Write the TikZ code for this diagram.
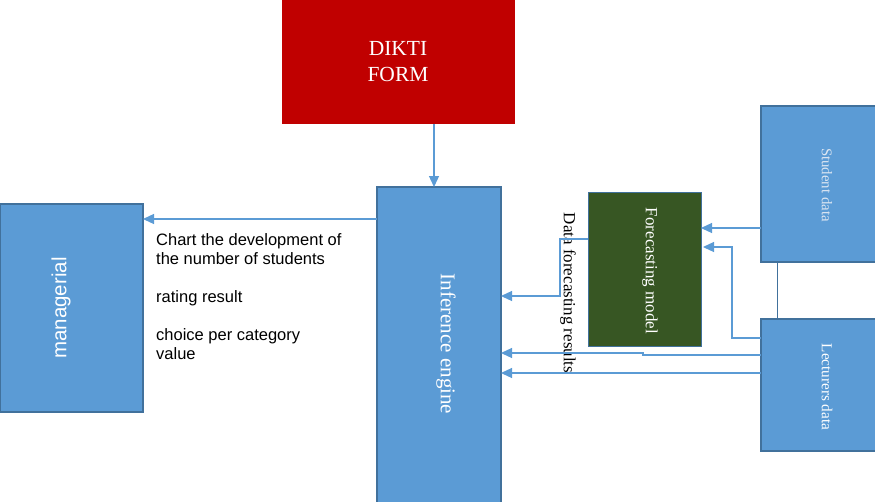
\documentclass[tikz,border=0pt]{standalone}
\usepackage{fontspec}
\setmainfont{Liberation Serif}
\newfontfamily\arialf{Liberation Sans}
\usetikzlibrary{arrows.meta}
\definecolor{boxblue}{HTML}{5B9BD5}
\definecolor{edgeblue}{HTML}{41719C}
\definecolor{dikred}{HTML}{C00000}
\definecolor{fcgreen}{HTML}{375623}
\definecolor{paletext}{HTML}{DCE6F2}
\begin{document}
\begin{tikzpicture}[x=1pt,y=-1pt,
  bluebox/.style={draw=edgeblue, fill=boxblue, line width=1.4pt, inner sep=0pt, outer sep=0pt, anchor=north west},
  arr/.style={draw=boxblue, line width=1.3pt, -{Triangle[length=11pt,width=10pt]}},
  sanslbl/.style={font=\arialf\fontsize{16.5}{19}\selectfont, anchor=base west, inner sep=0pt}
]
\useasboundingbox (0,0) rectangle (875,501);
% boxes
\node[draw=none, fill=dikred, inner sep=0pt, outer sep=0pt, anchor=north west, minimum width=233pt, minimum height=124pt] (dik) at (282,0) {};
\node[bluebox, minimum width=124pt, minimum height=320pt] (inf) at (377,187) {};
\node[bluebox, minimum width=143pt, minimum height=208pt] (mgr) at (0,204) {};
\node[draw=edgeblue, fill=fcgreen, line width=1pt, inner sep=0pt, outer sep=0pt, anchor=north west, minimum width=113pt, minimum height=154pt] (fc) at (588,192) {};
\node[bluebox, minimum width=118pt, minimum height=156pt] (stu) at (761,106) {};
\node[bluebox, minimum width=118pt, minimum height=132pt] (lec) at (761,319) {};
% box texts
\node[text=white, align=center, font=\fontsize{21.5}{26}\selectfont, inner sep=0pt] (dikt) at (398,62) {DIKTI\\FORM};
\node[text=white, rotate=-90, font=\fontsize{21}{24}\selectfont, inner sep=0pt] (inft) at (446,344) {Inference engine};
\node[text=white, rotate=90, font=\arialf\fontsize{20.5}{24}\selectfont, inner sep=0pt] (mgrt) at (61,308) {managerial};
\node[text=white, rotate=-90, font=\fontsize{17}{20}\selectfont, inner sep=0pt] (fct) at (650,271) {Forecasting model};
\node[text=paletext, rotate=-90, font=\fontsize{14.8}{17}\selectfont, inner sep=0pt] (stut) at (827,185) {Student data};
\node[text=white, rotate=-90, font=\fontsize{15.2}{17}\selectfont, inner sep=0pt] (lect) at (827,387) {Lecturers data};
\node[text=black, rotate=-90, font=\fontsize{17}{20}\selectfont, inner sep=0pt] (dfr) at (568,293) {Data forecasting results};
% labels near managerial
\node[sanslbl] (l1) at (156,245) {Chart the development of};
\node[sanslbl] (l2) at (156,264) {the number of students};
\node[sanslbl] (l3) at (156,302) {rating result};
\node[sanslbl] (l4) at (156,340) {choice per category};
\node[sanslbl] (l5) at (156,359) {value};
% connectors
\draw[arr] (dik.south -| 434,0) -- (inf.north -| 434,0);
\draw[arr] (inf.west |- 0,219) -- (mgr.east |- 0,219);
\draw[arr] (fc.west |- 0,239) -- (560,239) -- (560,296) -- (inf.east |- 0,296);
\draw[arr] (stu.west |- 0,228) -- (fc.east |- 0,228);
\draw[arr] (lec.west |- 0,338) -- (732,338) -- (732,247) -- ([xshift=2pt]fc.east |- 0,247);
\draw[arr] (lec.west |- 0,355) -- (643,355) -- (643,353) -- (inf.east |- 0,353);
\draw[arr] (lec.west |- 0,373) -- (inf.east |- 0,373);
\draw[draw=edgeblue, line width=1pt] (stu.south -| 777,0) -- (lec.north -| 777,0);
\end{tikzpicture}
\end{document}
